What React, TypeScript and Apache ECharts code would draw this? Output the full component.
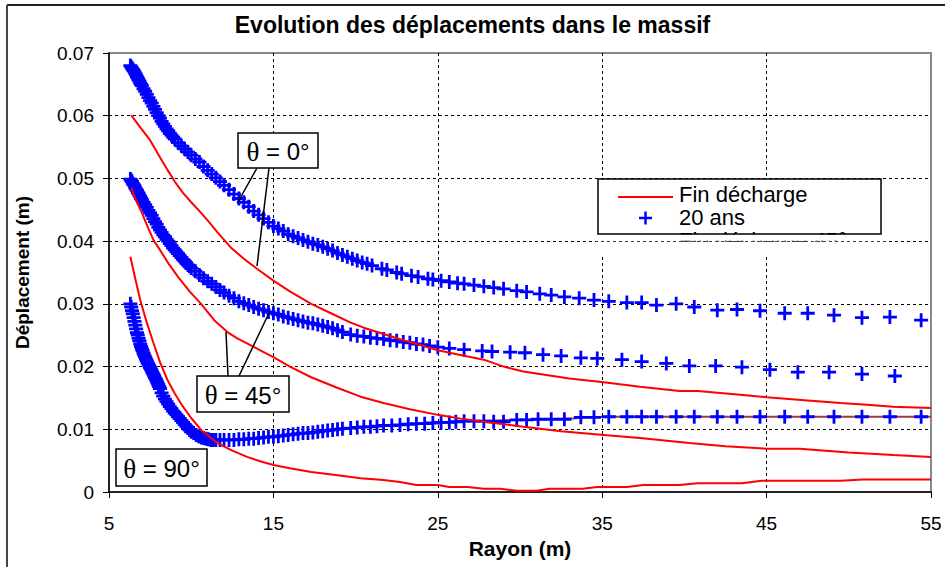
import React, { useEffect, useRef } from "react";
import * as echarts from "echarts";

// ---------- data ----------
const X_TICKS = [5, 15, 25, 35, 45, 55];

// 20 ans, theta = 0°
const R_B0 = [6.3, 6.35, 6.4, 6.45, 6.5, 6.55, 6.6, 6.65, 6.7, 6.75, 6.8, 6.85, 6.9, 6.95, 7.0, 7.1, 7.2, 7.3, 7.4, 7.5, 7.6, 7.7, 7.8, 7.9, 8.0, 8.1, 8.2, 8.3, 8.4, 8.5, 8.6, 8.7, 8.8, 8.9, 9.0, 9.2, 9.4, 9.6, 9.8, 10.0, 10.25, 10.5, 10.75, 11.0, 11.25, 11.5, 11.75, 12.0, 12.3, 12.6, 12.9, 13.2, 13.5, 13.8, 14.1, 14.4, 14.7, 15.0, 15.3, 15.6, 15.9, 16.2, 16.5, 16.8, 17.1, 17.4, 17.7, 18.0, 18.3, 18.6, 18.9, 19.2, 19.5, 19.8, 20.1, 20.4, 20.7, 21.0, 21.6, 21.9, 22.5, 22.8, 23.4, 23.8, 24.4, 24.7, 25.2, 25.7, 26.2, 26.6, 27.2, 27.8, 28.4, 29.0, 29.8, 30.4, 31.2, 31.9, 32.7, 33.6, 34.5, 35.4, 36.5, 37.4, 38.3, 39.5, 40.6, 42.0, 43.2, 44.6, 46.1, 47.5, 49.1, 50.8, 52.5, 54.4];
const D_B0 = [0.0680, 0.0678, 0.0676, 0.0674, 0.0672, 0.0670, 0.0667, 0.0665, 0.0662, 0.0660, 0.0657, 0.0655, 0.0652, 0.0650, 0.0648, 0.0643, 0.0639, 0.0634, 0.0629, 0.0624, 0.0620, 0.0615, 0.0610, 0.0605, 0.0600, 0.0596, 0.0591, 0.0587, 0.0583, 0.0579, 0.0576, 0.0572, 0.0569, 0.0566, 0.0563, 0.0557, 0.0552, 0.0547, 0.0542, 0.0537, 0.0531, 0.0526, 0.0519, 0.0513, 0.0507, 0.0501, 0.0495, 0.0489, 0.0482, 0.0475, 0.0468, 0.0462, 0.0455, 0.0448, 0.0442, 0.0436, 0.0430, 0.0424, 0.0420, 0.0416, 0.0411, 0.0408, 0.0405, 0.0402, 0.0399, 0.0396, 0.0394, 0.0391, 0.0388, 0.0385, 0.0381, 0.0378, 0.0375, 0.0372, 0.0369, 0.0366, 0.0364, 0.0361, 0.0356, 0.0354, 0.0350, 0.0348, 0.0345, 0.0343, 0.0340, 0.0339, 0.0337, 0.0335, 0.0333, 0.0332, 0.0330, 0.0328, 0.0326, 0.0324, 0.0321, 0.0319, 0.0316, 0.0314, 0.0311, 0.0309, 0.0306, 0.0304, 0.0302, 0.0302, 0.0298, 0.0300, 0.0295, 0.0290, 0.0291, 0.0289, 0.0285, 0.0285, 0.0282, 0.0278, 0.0279, 0.0274];

// 20 ans, theta = 45°
const R_B45 = [6.3, 6.35, 6.4, 6.45, 6.5, 6.55, 6.6, 6.65, 6.7, 6.75, 6.8, 6.85, 6.9, 6.95, 7.0, 7.1, 7.2, 7.3, 7.4, 7.5, 7.6, 7.7, 7.8, 7.9, 8.0, 8.1, 8.2, 8.3, 8.4, 8.5, 8.6, 8.7, 8.8, 8.9, 9.0, 9.1, 9.2, 9.3, 9.4, 9.5, 9.6, 9.7, 9.8, 9.9, 10.0, 10.25, 10.5, 10.75, 11.0, 11.25, 11.5, 11.75, 12.0, 12.3, 12.6, 12.9, 13.2, 13.5, 13.8, 14.1, 14.4, 14.7, 15.0, 15.3, 15.6, 15.9, 16.2, 16.5, 16.8, 17.1, 17.4, 17.7, 18.0, 18.3, 18.6, 18.9, 19.2, 19.7, 20.1, 20.5, 20.9, 21.3, 21.7, 22.1, 22.5, 22.9, 23.3, 23.7, 24.1, 24.5, 25.0, 25.7, 26.6, 27.7, 28.3, 29.4, 30.3, 31.4, 32.5, 33.7, 34.7, 36.2, 37.4, 38.9, 40.3, 41.9, 43.5, 45.2, 46.9, 48.8, 50.8, 52.8];
const D_B45 = [0.0499, 0.0497, 0.0495, 0.0492, 0.0490, 0.0488, 0.0485, 0.0483, 0.0481, 0.0478, 0.0476, 0.0473, 0.0471, 0.0468, 0.0466, 0.0462, 0.0458, 0.0454, 0.0449, 0.0445, 0.0441, 0.0436, 0.0431, 0.0427, 0.0422, 0.0418, 0.0414, 0.0410, 0.0407, 0.0403, 0.0400, 0.0396, 0.0393, 0.0389, 0.0386, 0.0383, 0.0380, 0.0377, 0.0374, 0.0371, 0.0368, 0.0365, 0.0362, 0.0360, 0.0357, 0.0352, 0.0346, 0.0341, 0.0336, 0.0332, 0.0327, 0.0322, 0.0318, 0.0313, 0.0309, 0.0304, 0.0301, 0.0298, 0.0295, 0.0292, 0.0290, 0.0287, 0.0285, 0.0283, 0.0280, 0.0278, 0.0276, 0.0274, 0.0272, 0.0270, 0.0269, 0.0267, 0.0265, 0.0263, 0.0261, 0.0258, 0.0255, 0.0251, 0.0249, 0.0248, 0.0246, 0.0245, 0.0244, 0.0242, 0.0241, 0.0239, 0.0238, 0.0236, 0.0235, 0.0233, 0.0231, 0.0229, 0.0227, 0.0225, 0.0224, 0.0223, 0.0222, 0.0219, 0.0217, 0.0214, 0.0213, 0.0211, 0.0208, 0.0205, 0.0201, 0.0201, 0.0199, 0.0195, 0.0191, 0.0191, 0.0188, 0.0185];

// 20 ans, theta = 90°
const R_B90 = [6.3, 6.35, 6.4, 6.45, 6.5, 6.55, 6.6, 6.65, 6.7, 6.75, 6.8, 6.85, 6.9, 6.95, 7.0, 7.05, 7.1, 7.15, 7.2, 7.25, 7.3, 7.35, 7.4, 7.45, 7.5, 7.55, 7.6, 7.65, 7.7, 7.75, 7.8, 7.85, 7.9, 7.95, 8.0, 8.05, 8.1, 8.2, 8.3, 8.4, 8.5, 8.6, 8.7, 8.8, 8.9, 9.0, 9.1, 9.2, 9.3, 9.4, 9.5, 9.6, 9.7, 9.8, 9.9, 10.0, 10.15, 10.3, 10.45, 10.6, 10.75, 10.9, 11.05, 11.2, 11.35, 11.5, 11.75, 12.0, 12.3, 12.6, 12.9, 13.2, 13.5, 13.8, 14.1, 14.4, 14.7, 15.0, 15.3, 15.6, 15.9, 16.2, 16.5, 16.8, 17.1, 17.4, 17.7, 18.0, 18.3, 18.6, 18.9, 19.2, 19.7, 20.1, 20.5, 20.9, 21.3, 21.7, 22.2, 22.7, 23.2, 23.7, 24.2, 24.7, 25.2, 25.7, 26.1, 26.6, 27.2, 27.8, 28.4, 29.0, 29.8, 30.4, 31.1, 31.9, 32.7, 33.7, 34.5, 35.4, 36.5, 37.4, 38.3, 39.5, 40.6, 42.0, 43.2, 44.6, 46.1, 47.5, 49.1, 50.8, 52.5, 54.4];
const D_B90 = [0.0300, 0.0295, 0.0289, 0.0284, 0.0278, 0.0272, 0.0266, 0.0260, 0.0254, 0.0250, 0.0245, 0.0241, 0.0236, 0.0232, 0.0228, 0.0225, 0.0221, 0.0218, 0.0215, 0.0212, 0.0209, 0.0206, 0.0204, 0.0201, 0.0198, 0.0196, 0.0193, 0.0190, 0.0188, 0.0185, 0.0182, 0.0180, 0.0177, 0.0174, 0.0171, 0.0168, 0.0165, 0.0158, 0.0153, 0.0148, 0.0144, 0.0140, 0.0136, 0.0133, 0.0129, 0.0126, 0.0123, 0.0120, 0.0117, 0.0114, 0.0111, 0.0108, 0.0105, 0.0102, 0.0099, 0.0096, 0.0094, 0.0091, 0.0089, 0.0087, 0.0086, 0.0085, 0.0084, 0.0083, 0.0083, 0.0083, 0.0083, 0.0083, 0.0083, 0.0083, 0.0084, 0.0084, 0.0085, 0.0085, 0.0086, 0.0087, 0.0088, 0.0088, 0.0089, 0.0090, 0.0091, 0.0092, 0.0093, 0.0094, 0.0094, 0.0095, 0.0096, 0.0097, 0.0098, 0.0099, 0.0100, 0.0101, 0.0102, 0.0103, 0.0104, 0.0104, 0.0105, 0.0106, 0.0106, 0.0107, 0.0108, 0.0109, 0.0109, 0.0110, 0.0111, 0.0111, 0.0112, 0.0113, 0.0113, 0.0113, 0.0112, 0.0112, 0.0115, 0.0115, 0.0116, 0.0116, 0.0116, 0.0119, 0.0119, 0.0120, 0.0120, 0.0120, 0.0120, 0.0120, 0.0120, 0.0120, 0.0120, 0.0120, 0.0120, 0.0120, 0.0120, 0.0120, 0.0120, 0.0120];

// Fin décharge, theta = 0°
const R_R0 = [6.35, 6.8, 7.5, 8.0, 8.55, 9.0, 9.5, 10.0, 10.6, 11.1, 11.6, 12.4, 13.2, 14.0, 15.0, 16.0, 17.3, 18.5, 19.7, 20.5, 21.7, 22.9, 24.0, 25.0, 26.3, 27.8, 29.0, 30.2, 31.5, 33.0, 35.1, 37.3, 39.7, 40.8, 43.4, 45.0, 47.5, 49.5, 51.1, 52.7, 55.0];
const D_R0 = [0.0601, 0.0585, 0.0561, 0.0538, 0.0514, 0.0495, 0.0477, 0.0462, 0.0445, 0.0430, 0.0414, 0.0390, 0.0372, 0.0356, 0.0337, 0.0320, 0.0300, 0.0285, 0.0270, 0.0262, 0.0252, 0.0242, 0.0234, 0.0226, 0.0219, 0.0211, 0.0200, 0.0192, 0.0187, 0.0181, 0.0175, 0.0168, 0.0161, 0.0161, 0.0155, 0.0151, 0.0146, 0.0142, 0.0139, 0.0136, 0.0134];

// Fin décharge, theta = 45°
const R_R45 = [6.35, 6.7, 7.0, 7.4, 7.7, 8.1, 8.6, 9.2, 9.9, 10.6, 11.4, 12.2, 12.8, 13.4, 14.2, 15.0, 16.0, 17.3, 18.8, 20.3, 21.7, 23.3, 25.0, 26.4, 27.8, 30.2, 32.5, 35.1, 37.3, 40.3, 42.5, 45.0, 47.0, 50.0, 52.7, 55.0];
const D_R45 = [0.0485, 0.0462, 0.0445, 0.0420, 0.0402, 0.0386, 0.0365, 0.0343, 0.0320, 0.0300, 0.0274, 0.0255, 0.0245, 0.0237, 0.0226, 0.0215, 0.0200, 0.0183, 0.0167, 0.0152, 0.0142, 0.0132, 0.0123, 0.0117, 0.0112, 0.0104, 0.0097, 0.0091, 0.0086, 0.0078, 0.0073, 0.0069, 0.0069, 0.0063, 0.0059, 0.0056];

// Fin décharge, theta = 90°
const R_R90 = [6.3, 6.6, 6.9, 7.3, 7.7, 8.1, 8.55, 9.0, 9.5, 10.0, 10.6, 11.1, 11.6, 12.5, 13.4, 14.2, 15.0, 16.0, 17.3, 18.8, 20.3, 21.7, 22.7, 23.7, 25.0, 25.7, 26.8, 27.8, 28.8, 29.8, 31.0, 31.8, 33.8, 34.7, 36.5, 37.5, 39.7, 40.8, 43.5, 44.7, 49.5, 50.9, 55.0];
const D_R90 = [0.0375, 0.0340, 0.0306, 0.0270, 0.0238, 0.0207, 0.0179, 0.0157, 0.0136, 0.0118, 0.0099, 0.0088, 0.0078, 0.0066, 0.0056, 0.0049, 0.0043, 0.0038, 0.0032, 0.0027, 0.0022, 0.0019, 0.0016, 0.0011, 0.0011, 0.0008, 0.0008, 0.0005, 0.0005, 0.0002, 0.0002, 0.0005, 0.0005, 0.0008, 0.0008, 0.0011, 0.0011, 0.0014, 0.0014, 0.0018, 0.0018, 0.0020, 0.0020];

// faint dark-red line under the theta = 90° markers
const R_EXTRA = [27.2, 29.8, 33.2, 34.0, 35.4, 55.0];
const D_EXTRA = [0.0113, 0.0115, 0.0117, 0.0119, 0.0120, 0.0120];

const LEGEND_LABELS = ["Fin décharge", "20 ans", "Fin décharge 45°"];

const pairs = (r: number[], d: number[]) => r.map((v, i) => [v, d[i]]);

const SANS = "Liberation Sans, Arial, sans-serif";
const SERIF = "Liberation Serif, Times New Roman, serif";
const PLUS = "path://M5.6,0H8.4V5.6H14V8.4H8.4V14H5.6V8.4H0V5.6H5.6Z";

function annotation(x: number, y: number, w: number, h: number, deg: string) {
  return {
    type: "group",
    z: 20,
    children: [
      {
        type: "rect",
        shape: { x, y, width: w, height: h },
        style: { fill: "#fff", stroke: "#000", lineWidth: 1.5 },
        z: 20,
      },
      {
        type: "text",
        x: x + w / 2,
        y: y + h / 2 + 1,
        z: 21,
        style: {
          text: "{t|θ}{s| = " + deg + "°}",
          align: "center",
          verticalAlign: "middle",
          rich: {
            t: { fontFamily: SERIF, fontSize: 27, fill: "#000" },
            s: { fontFamily: SANS, fontSize: 24, fill: "#000" },
          },
        },
      },
    ],
  };
}

function leader(x1: number, y1: number, x2: number, y2: number) {
  return {
    type: "line",
    z: 19,
    shape: { x1, y1, x2, y2 },
    style: { stroke: "#000", lineWidth: 1.5 },
  };
}

export default function App() {
  const ref = useRef<HTMLDivElement>(null);

  useEffect(() => {
    if (!ref.current) return;
    const chart = echarts.init(ref.current, null, { renderer: "svg" });

    const blue = (data: number[][]) => ({
      name: "20 ans",
      type: "scatter",
      data,
      symbol: PLUS,
      symbolSize: 14,
      itemStyle: { color: "#0000ff", opacity: 1 },
      z: 3,
    });
    const red = (data: number[][]) => ({
      name: "Fin décharge",
      type: "line",
      data,
      showSymbol: false,
      symbol: "none",
      lineStyle: { color: "#ff0000", width: 2 },
      itemStyle: { color: "#ff0000" },
      z: 4,
    });

    const legendX = 598;
    const legendY = 179;
    const legendW = 283;
    const legendH = 55;

    chart.setOption({
      animation: false,
      backgroundColor: "#fff",
      title: {
        text: "Evolution des déplacements dans le massif",
        left: "center",
        top: 8,
        textStyle: { fontFamily: SANS, fontSize: 23, fontWeight: "bold", color: "#000" },
      },
      grid: {
        left: 109,
        right: 14,
        top: 53,
        bottom: 75,
        show: true,
        borderColor: "#888",
        borderWidth: 2,
        backgroundColor: "transparent",
      },
      xAxis: {
        type: "value",
        min: X_TICKS[0],
        max: X_TICKS[X_TICKS.length - 1],
        interval: 10,
        name: "Rayon (m)",
        nameLocation: "middle",
        nameGap: 43,
        nameTextStyle: { fontFamily: SANS, fontSize: 21, fontWeight: "bold", color: "#000" },
        axisLine: { show: true, onZero: false, lineStyle: { color: "#000", width: 1.5 } },
        axisTick: { show: true, length: 6, lineStyle: { color: "#000", width: 1 } },
        axisLabel: { color: "#000", fontSize: 19, fontFamily: SANS, margin: 22 },
        splitLine: {
          show: true,
          showMinLine: false,
          showMaxLine: false,
          lineStyle: { color: "#000", type: [3, 3], width: 1 },
        },
      },
      yAxis: {
        type: "value",
        min: 0,
        max: 0.07,
        interval: 0.01,
        name: "Déplacement (m)",
        nameLocation: "middle",
        nameRotate: 90,
        nameGap: 77,
        nameTextStyle: { fontFamily: SANS, fontSize: 19, fontWeight: "bold", color: "#000" },
        axisLine: { show: true, lineStyle: { color: "#000", width: 1.5 } },
        axisTick: { show: true, length: 6, lineStyle: { color: "#000", width: 1 } },
        axisLabel: {
          color: "#000",
          fontSize: 19,
          fontFamily: SANS,
          margin: 15,
          formatter: (v: number) => (v === 0 ? "0" : v.toFixed(2)),
        },
        splitLine: {
          show: true,
          showMinLine: false,
          showMaxLine: false,
          lineStyle: { color: "#000", type: [3, 3], width: 1 },
        },
      },
      series: [
        {
          name: "extra",
          type: "line",
          data: pairs(R_EXTRA, D_EXTRA),
          showSymbol: false,
          symbol: "none",
          lineStyle: { color: "#a03a3a", width: 2 },
          z: 2,
        },
        red(pairs(R_R0, D_R0)),
        red(pairs(R_R45, D_R45)),
        red(pairs(R_R90, D_R90)),
        blue(pairs(R_B0, D_B0)),
        blue(pairs(R_B45, D_B45)),
        blue(pairs(R_B90, D_B90)),
      ],
      graphic: [
        // outer chart border (only top and left edges are in view)
        {
          type: "line",
          z: 1,
          shape: { x1: 7, y1: 5, x2: 945, y2: 5 },
          style: { stroke: "#222", lineWidth: 2 },
        },
        {
          type: "line",
          z: 1,
          shape: { x1: 7, y1: 5, x2: 7, y2: 567 },
          style: { stroke: "#444", lineWidth: 2 },
        },
        // legend
        {
          type: "rect",
          z: 30,
          shape: { x: legendX, y: legendY, width: legendW, height: legendH },
          style: { fill: "#fff", stroke: "none" },
        },
        {
          type: "line",
          z: 31,
          shape: { x1: 618, y1: 197, x2: 673, y2: 197 },
          style: { stroke: "#ff0000", lineWidth: 2 },
        },
        {
          type: "line",
          z: 31,
          shape: { x1: 639, y1: 218, x2: 652, y2: 218 },
          style: { stroke: "#0000ff", lineWidth: 2.5 },
        },
        {
          type: "line",
          z: 31,
          shape: { x1: 645.5, y1: 211.5, x2: 645.5, y2: 224.5 },
          style: { stroke: "#0000ff", lineWidth: 2.5 },
        },
        ...LEGEND_LABELS.map((t, i) => ({
          type: "text",
          z: 31,
          x: 679,
          y: 194 + i * 23,
          style: {
            text: t,
            fontFamily: SANS,
            fontSize: 22,
            fill: "#000",
            verticalAlign: "middle",
          },
        })),
        // hide the overflow of the legend's third row
        {
          type: "rect",
          z: 32,
          shape: { x: legendX - 2, y: legendY + legendH + 0.5, width: legendW + 10, height: 6.2 },
          style: { fill: "#fff", stroke: "none" },
        },
        {
          type: "rect",
          z: 32,
          shape: { x: legendX - 2, y: legendY + legendH + 7.8, width: legendW + 10, height: 14 },
          style: { fill: "#fff", stroke: "none" },
        },
        {
          type: "rect",
          z: 33,
          shape: { x: legendX, y: legendY, width: legendW, height: legendH },
          style: { fill: "none", stroke: "#000", lineWidth: 1.5 },
        },
        // annotations
        leader(257, 168, 238, 202),
        leader(269, 168, 257, 266),
        leader(228, 376, 226, 332),
        leader(239, 376, 269, 313),
        annotation(238, 133, 80, 35, "0"),
        annotation(197, 376, 92, 36, "45"),
        annotation(116, 449, 91, 37, "90"),
      ],
    });

    return () => chart.dispose();
  }, []);

  return (
    <div
      ref={ref}
      style={{ position: "fixed", left: 0, top: 0, width: 945, height: 567, background: "#fff" }}
    />
  );
}
